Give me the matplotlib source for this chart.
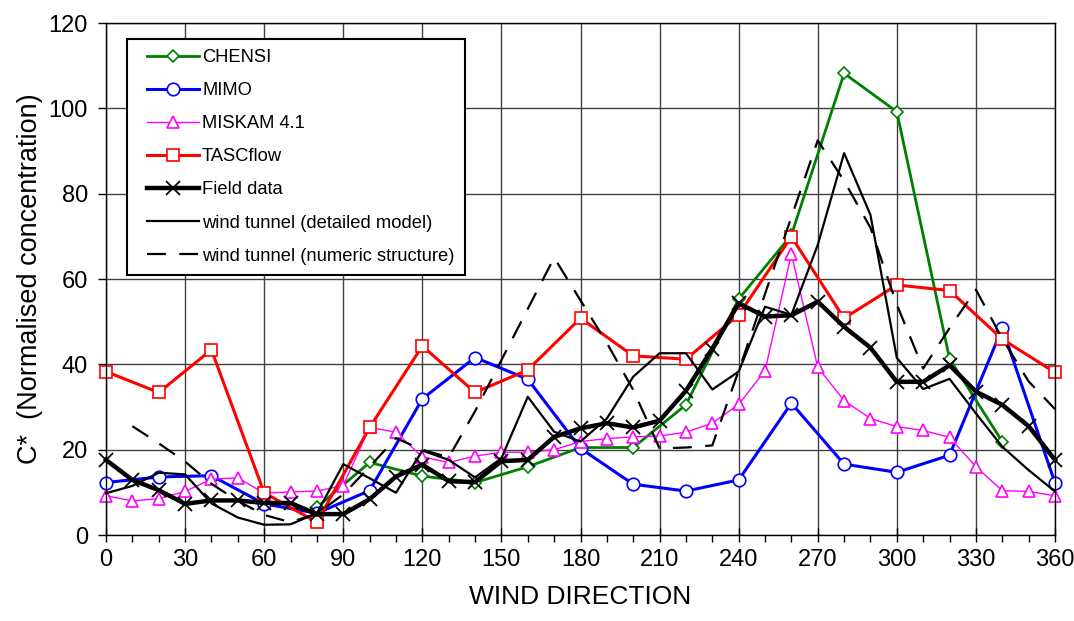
import numpy as np
import matplotlib.pyplot as plt
from matplotlib.lines import Line2D
from matplotlib.legend_handler import HandlerLine2D
from matplotlib.ticker import MultipleLocator

plt.rcParams['font.family'] = ['Liberation Sans', 'DejaVu Sans']

# wind directions (degrees)
dir_10 = np.arange(0, 361, 10)
dir_20 = np.arange(0, 361, 20)
chensi_dir = np.arange(80, 341, 20)
numeric_dir = np.arange(10, 361, 10)

# normalised concentration C*
chensi = [6.5, 17.0, 13.8, 12.3, 16.0, 20.5, 20.5, 30.5, 55.3, 70.3, 108.2, 99.2, 41.3, 21.9]
mimo = [12.3, 13.6, 13.9, 7.3, 5.1, 10.4, 31.9, 41.6, 36.5, 20.3, 11.9, 10.3, 12.9,
        30.9, 16.6, 14.7, 18.7, 48.5, 12.2]
miskam = [9.2, 8.0, 8.5, 10.2, 13.1, 13.4, 9.8, 10.1, 10.3, 11.6, 25.2, 24.1, 18.3,
          17.0, 18.5, 19.4, 19.4, 20.0, 21.9, 22.6, 23.0, 23.2, 24.1, 26.2, 30.6, 38.5,
          65.9, 39.3, 31.5, 27.3, 25.4, 24.5, 22.9, 16.0, 10.4, 10.2, 9.2]
tascflow = [38.3, 33.4, 43.4, 9.9, 3.0, 25.2, 44.3, 33.4, 38.7, 50.8, 42.0, 41.2, 51.6,
            69.9, 50.8, 58.6, 57.3, 45.9, 38.1]
field = [17.6, 12.9, 10.5, 7.3, 8.1, 8.1, 7.5, 7.5, 4.9, 4.9, 8.4, 13.7, 16.5, 12.6,
         12.4, 17.3, 17.6, 23.0, 25.0, 26.2, 25.2, 26.8, 33.8, 43.7, 54.3, 51.2, 51.5,
         54.7, 48.8, 43.9, 35.9, 35.9, 39.8, 33.6, 30.5, 25.5, 17.6]
wt_detailed = [9.8, 11.5, 14.6, 14.2, 7.4, 4.1, 2.4, 2.5, 5.1, 16.6, 13.3, 9.9, 19.8,
               17.6, 13.5, 18.0, 32.4, 24.2, 21.9, 27.3, 37.1, 42.6, 42.6, 34.1, 38.3,
               53.5, 51.6, 68.0, 89.5, 75.0, 41.5, 34.2, 36.6, 28.5, 20.7, 15.2, 10.2]
wt_numeric = [25.5, 21.5, 17.2, 12.0, 8.0, 4.7, 3.0, 5.0, 9.5, 16.0, 22.7, 20.0, 18.2,
              29.0, 41.0, 53.0, 65.0, 55.0, 45.0, 34.0, 20.3, 20.5, 21.0, 38.5, 56.5,
              74.5, 92.5, 83.0, 72.0, 54.0, 39.0, 48.5, 57.5, 46.0, 36.0, 29.5]

fig = plt.figure(figsize=(10.74, 6.21), dpi=100)
ax = fig.add_axes([106 / 1074, 1 - 535 / 621, 949 / 1074, 512 / 621])

common = dict(clip_on=False, markerfacecolor='white')
ax.plot(chensi_dir, chensi, color='#008000', lw=2, marker='D', ms=6, mew=1.2,
        label='CHENSI', **common)
ax.plot(dir_20, mimo, color='#0000ff', lw=2.2, marker='o', ms=9, mew=1.2,
        label='MIMO', **common)
ax.plot(dir_10, miskam, color='#ff00ff', lw=1, marker='^', ms=9, mew=1.2,
        label='MISKAM 4.1', **common)
ax.plot(dir_20, tascflow, color='#ff0000', lw=2.2, marker='s', ms=9, mew=1.2,
        label='TASCflow', **common)
ax.plot(dir_10, field, color='black', lw=3.2, marker='x', ms=10, mew=1.3,
        label='Field data', clip_on=False)
ax.plot(dir_10, wt_detailed, color='black', lw=1.6,
        label='wind tunnel (detailed model)', clip_on=False)
ax.plot(numeric_dir, wt_numeric, color='black', lw=1.6, linestyle=(0, (8.5, 6)),
        label='wind tunnel (numeric structure)', clip_on=False)

ax.set_xlim(0, 360)
ax.set_ylim(0, 120)
ax.xaxis.set_major_locator(MultipleLocator(30))
ax.xaxis.set_minor_locator(MultipleLocator(10))
ax.yaxis.set_major_locator(MultipleLocator(20))
ax.grid(True, which='major', color='#404040', lw=1)
ax.set_axisbelow(True)
for sp in ax.spines.values():
    sp.set_color('black')
    sp.set_linewidth(1)

ax.tick_params(axis='y', direction='out', length=6, width=1, labelsize=17, pad=7)
ax.tick_params(axis='x', which='major', direction='inout', length=10, width=1,
               labelsize=17, pad=5)
ax.tick_params(axis='x', which='minor', direction='out', length=5, width=1)

ax.set_xlabel('WIND DIRECTION', fontsize=19, labelpad=10)
ax.set_ylabel('C*  (Normalised concentration)', fontsize=19.5, labelpad=4)

leg = ax.legend(loc='upper left', bbox_to_anchor=(0.022, 0.969), borderaxespad=0,
                fontsize=13.2, frameon=True, fancybox=False, framealpha=1,
                edgecolor='black', handlelength=3.4, handletextpad=0.15,
                labelspacing=0.88, borderpad=0.55,
                handler_map={Line2D: HandlerLine2D(xpad=0.55)})
leg.get_frame().set_linewidth(1.5)

fig.savefig('out.png', dpi=100)
